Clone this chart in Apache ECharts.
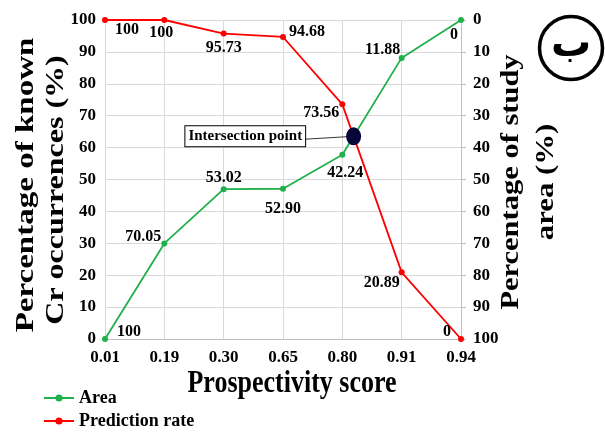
<!DOCTYPE html>
<html><head><meta charset="utf-8">
<script src="https://cdn.jsdelivr.net/npm/echarts@6/dist/echarts.min.js"></script>
<style>html,body{margin:0;padding:0;background:#fff}#c{width:605px;height:432px}</style>
</head><body><div id="c"></div>
<script>
const categories = ['0.01','0.19','0.30','0.65','0.80','0.91','0.94'];
const predictionRate = [100, 100, 95.73, 94.68, 73.56, 20.89, 0];
const areaValues = [100, 70.05, 53.02, 52.90, 42.24, 11.88, 0];
const yTicks = [0,10,20,30,40,50,60,70,80,90,100];
const xTitle = 'Prospectivity score';
const leftTitle = ['Percentage of known', 'Cr occurrences (%)'];
const rightTitle = ['Percentage of study', 'area (%)'];
const intersectionText = 'Intersection point';
const panelLetter = 'ب';

const FONT = '"Liberation Serif","Times New Roman",serif';
const GREEN = '#21b04b';
const RED = '#ff0000';

function fmt(v){ return (v === 100 || v === 0) ? String(v) : v.toFixed(2); }

// label offsets (style)
const redOff = [[22,10],[-3,13],[0,14],[24,-5],[-21,9],[-20,10],[-14,-7]];
const greenOff = [[24,-7],[-21,-7],[0,-11],[0,20],[3,18],[-19,-8],[-7,15]];

// intersection between segments (left-axis units; right axis is inverted)
let inter = null;
for (let i = 0; i < categories.length - 1; i++) {
  const r0 = predictionRate[i], r1 = predictionRate[i+1];
  const g0 = 100 - areaValues[i], g1 = 100 - areaValues[i+1];
  const d0 = r0 - g0, d1 = r1 - g1;
  if (d0 > 0 && d1 <= 0) {
    const t = d0 / (d0 - d1);
    inter = [i + t, r0 + (r1 - r0) * t];
    break;
  }
}

function mk(vals, offs) {
  return vals.map((v, i) => ({
    value: v,
    label: { show: true, position: 'inside', offset: offs[i], formatter: fmt(v),
      color: '#000', fontFamily: FONT, fontWeight: 'bold', fontSize: 16 }
  }));
}

function title(text, x, y, size, scale, rotated) {
  return {
    type: 'text', x: x, y: y, rotation: rotated ? Math.PI / 2 : 0,
    scaleX: rotated ? scale : 1, scaleY: rotated ? 1 : scale,
    style: { text: text, fill: '#000', font: 'bold ' + size + 'px ' + FONT, align: 'center', verticalAlign: 'middle' }
  };
}

const legendText = { fontFamily: FONT, fontWeight: 'bold', fontSize: 18, color: '#000' };

const chart = echarts.init(document.getElementById('c'), null, {renderer:'canvas'});
chart.setOption({
  animation: false,
  backgroundColor: '#fff',
  grid: { left: 105, right: 144, top: 20, bottom: 93, containLabel: false, outerBoundsMode: 'none' },
  legend: [{
    left: 43, top: 389, padding: 0, itemWidth: 30, itemHeight: 9, itemGap: 8,
    textStyle: legendText, data: ['Area']
  }, {
    left: 43, top: 412, padding: 0, itemWidth: 30, itemHeight: 9, itemGap: 8,
    textStyle: legendText, data: ['Prediction rate']
  }],
  xAxis: [{
    type: 'category', data: categories, boundaryGap: false,
    axisLine: { lineStyle: { color: '#bfbfbf' } },
    axisTick: { show: false },
    axisLabel: { color: '#000', fontFamily: FONT, fontWeight: 'bold', fontSize: 17, margin: 10 },
    splitLine: { show: true, lineStyle: { color: '#d9d9d9' } }
  }, {
    type: 'value', min: 0, max: categories.length - 1, show: false
  }],
  yAxis: [{
    type: 'value', min: 0, max: 100, interval: 10,
    axisLine: { show: false }, axisTick: { show: false },
    axisLabel: { color: '#000', fontFamily: FONT, fontWeight: 'bold', fontSize: 17, margin: 9,
      formatter: v => yTicks.includes(v) ? String(v) : '' },
    splitLine: { show: true, lineStyle: { color: '#d9d9d9' } }
  }, {
    type: 'value', min: 0, max: 100, interval: 10, inverse: true, position: 'right',
    axisLine: { show: true, lineStyle: { color: '#bfbfbf' } },
    axisTick: { show: true, length: 5, lineStyle: { color: '#bfbfbf' } },
    axisLabel: { color: '#000', fontFamily: FONT, fontWeight: 'bold', fontSize: 17, margin: 12 },
    splitLine: { show: false }
  }],
  series: [{
    name: 'Area', type: 'line', yAxisIndex: 1, data: mk(areaValues, greenOff),
    symbol: 'circle', symbolSize: 6, itemStyle: { color: GREEN }, lineStyle: { color: GREEN, width: 1.8 },
    z: 3
  }, {
    name: 'Prediction rate', type: 'line', yAxisIndex: 0, data: mk(predictionRate, redOff),
    symbol: 'circle', symbolSize: 6, itemStyle: { color: RED }, lineStyle: { color: RED, width: 1.8 },
    z: 3
  }, {
    name: 'Intersection', type: 'scatter', xAxisIndex: 1, yAxisIndex: 0,
    data: inter ? [inter] : [], symbolSize: [15, 18], itemStyle: { color: '#06063a', opacity: 1 }, z: 10,
    label: { show: true, position: 'left', distance: 41, formatter: intersectionText,
      color: '#000', fontFamily: FONT, fontWeight: 'bold', fontSize: 15,
      backgroundColor: '#fff', borderColor: '#000', borderWidth: 1, padding: [3, 3, 2, 3] },
    markLine: inter ? {
      silent: true, symbol: ['none','none'], label: { show: false },
      lineStyle: { color: '#000', width: 0.8, type: 'solid' },
      data: [[{ coord: [inter[0] - 0.82, inter[1] - 0.9] }, { coord: [inter[0], inter[1]] }]]
    } : undefined
  }],
  graphic: [
    title(xTitle, 292, 384, 26, 1.23, false),
    title(leftTitle[0], 26, 185, 26, 1.27, true),
    title(leftTitle[1], 56, 190, 26, 1.23, true),
    title(rightTitle[0], 512, 182, 25, 1.22, true),
    title(rightTitle[1], 547, 182, 25, 1.23, true),
    { type: 'circle', shape: { cx: 571, cy: 48, r: 31.5 },
      style: { fill: '#fff', stroke: '#000', lineWidth: 3.5 } },
    { type: 'text', x: 571, y: 46,
      style: { text: panelLetter, fill: '#000', font: 'bold 40px "DejaVu Sans",sans-serif', align: 'center', verticalAlign: 'middle' } }
  ]
});
</script></body></html>
